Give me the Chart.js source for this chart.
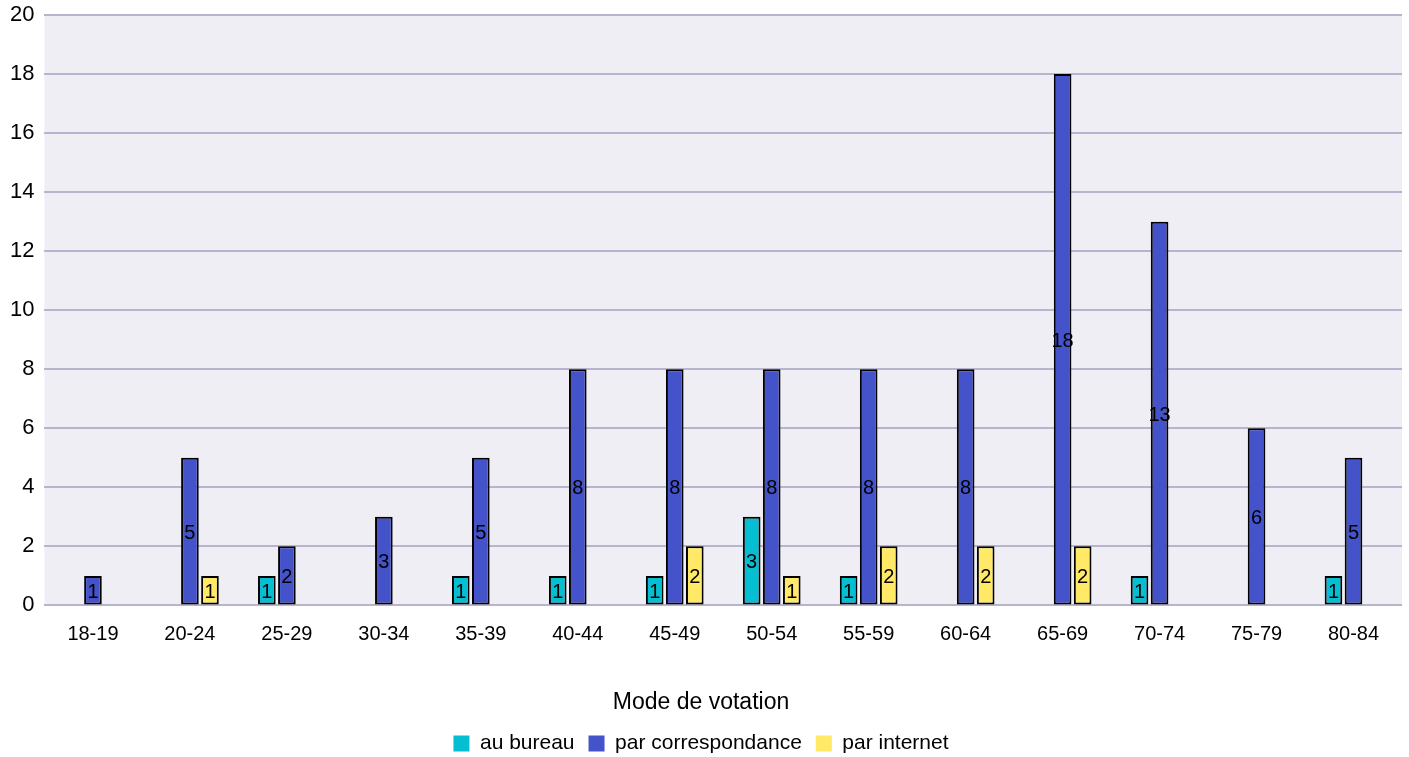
<!DOCTYPE html>
<html>
<head>
<meta charset="utf-8">
<script src="https://cdn.jsdelivr.net/npm/chart.js@4"></script>
<style>
  html, body { margin: 0; padding: 0; background: #ffffff; }
  #wrap { width: 1409px; height: 757px; }
</style>
</head>
<body>
<div id="wrap"><canvas id="myChart"></canvas></div>
<script>
// data (null = no bar)
var ageGroups = ['18-19', '20-24', '25-29', '30-34', '35-39', '40-44', '45-49',
  '50-54', '55-59', '60-64', '65-69', '70-74', '75-79', '80-84'];
var auBureau = [null, null, 1, null, 1, 1, 1, 3, 1, null, null, 1, null, 1];
var parCorrespondance = [1, 5, 2, 3, 5, 8, 8, 8, 8, 8, 18, 13, 6, 5];
var parInternet = [null, 1, null, null, null, null, 2, 1, 2, 2, 2, null, null, null];
var yTicks = [0, 2, 4, 6, 8, 10, 12, 14, 16, 18, 20];

var FONT = '"Liberation Sans", Arial, sans-serif';

// plot background
const plotBackground = {
  id: 'plotBackground',
  beforeDraw(chart) {
    const { ctx, chartArea } = chart;
    ctx.save();
    ctx.fillStyle = '#efeef5';
    ctx.fillRect(chartArea.left, chartArea.top, chartArea.right - chartArea.left, chartArea.bottom - chartArea.top);
    ctx.restore();
  }
};

// value in the middle of each bar
const barValues = {
  id: 'barValues',
  afterDatasetsDraw(chart) {
    const ctx = chart.ctx;
    ctx.save();
    ctx.font = '20px ' + FONT;
    ctx.fillStyle = '#000';
    ctx.textAlign = 'center';
    ctx.textBaseline = 'middle';
    chart.data.datasets.forEach((ds, i) => {
      chart.getDatasetMeta(i).data.forEach((bar, j) => {
        const v = ds.data[j];
        if (v === null || v === undefined) return;
        ctx.fillText(String(v), bar.x, (bar.y + bar.base) / 2 + 2);
      });
    });
    ctx.restore();
  }
};

const ctx = document.getElementById('myChart');
const myChartBar = new Chart(ctx, {
  type: 'bar',
  data: {
    labels: ageGroups,
    datasets: [{
      label: 'au bureau',
      data: auBureau,
      backgroundColor: '#06bed2',
      borderColor: '#000',
      borderWidth: 2,
      borderSkipped: false
    }, {
      label: 'par correspondance',
      data: parCorrespondance,
      backgroundColor: '#4453c9',
      borderColor: '#000',
      borderWidth: 2,
      borderSkipped: false
    }, {
      label: 'par internet',
      data: parInternet,
      backgroundColor: '#ffe966',
      borderColor: '#000',
      borderWidth: 2,
      borderSkipped: false
    }]
  },
  options: {
    responsive: true,
    maintainAspectRatio: false,
    animation: false,
    layout: { padding: { left: 0, right: 7, top: 15, bottom: -7 } },
    datasets: {
      bar: { categoryPercentage: 0.62, barPercentage: 0.88 }
    },
    scales: {
      x: {
        grid: { display: false, drawTicks: false },
        border: { display: false },
        ticks: {
          color: '#000',
          padding: 17,
          font: { family: FONT, size: 20 }
        }
      },
      y: {
        min: 0,
        max: 20,
        afterBuildTicks(axis) {
          axis.ticks = yTicks.map(v => ({ value: v }));
        },
        afterFit(axis) {
          axis.paddingTop = 0;
        },
        grid: { color: '#b7b5cd', lineWidth: 2, drawTicks: false },
        border: { display: false },
        ticks: {
          color: '#000',
          padding: 10,
          font: { family: FONT, size: 22, lineHeight: 1 }
        }
      }
    },
    plugins: {
      tooltip: { enabled: false },
      legend: {
        position: 'bottom',
        title: {
          display: true,
          text: 'Mode de votation',
          color: '#000',
          padding: { top: 28, bottom: 0 },
          font: { family: FONT, size: 23 }
        },
        labels: {
          color: '#000',
          boxWidth: 16,
          boxHeight: 16,
          padding: 14,
          font: { family: FONT, size: 21 },
          generateLabels(chart) {
            return Chart.defaults.plugins.legend.labels.generateLabels(chart).map(l => {
              l.lineWidth = 0;
              l.strokeStyle = 'rgba(0,0,0,0)';
              return l;
            });
          }
        }
      }
    }
  },
  plugins: [plotBackground, barValues]
});
</script>
</body>
</html>
